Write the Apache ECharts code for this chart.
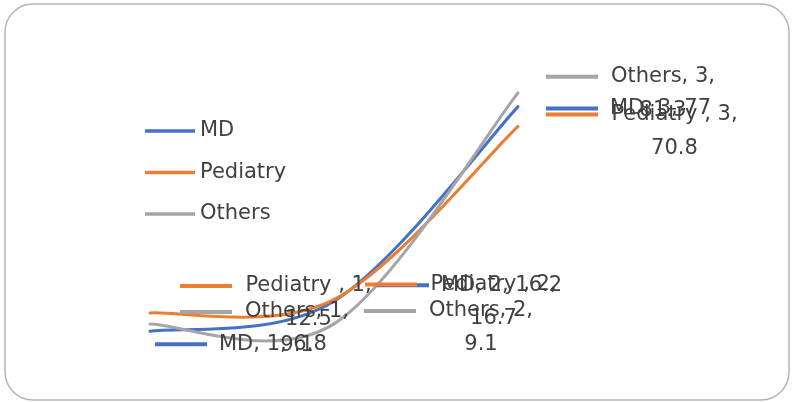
<!DOCTYPE html>
<html>
<head>
<meta charset="utf-8">
<script src="https://cdn.jsdelivr.net/npm/echarts@6/dist/echarts.min.js"></script>
<style>
  html, body { margin: 0; padding: 0; background: #ffffff; }
  #chart { width: 794px; height: 402px; }
</style>
</head>
<body>
<div id="chart"></div>
<script>
// Categories and series values
const categories = ['1', '2', '3'];
const seriesNames = ['MD', 'Pediatry ', 'Others'];
const mdValues = [6.8, 16.2, 77];
const pediatryValues = [12.5, 16.7, 70.8];
const othersValues = [9.1, 9.1, 81.3];

const seriesValues = [mdValues, pediatryValues, othersValues];
const colors = ['#4472C4', '#ED7D31', '#A5A5A5'];

// Label block placement relative to each point (top-left of key + text), px
const labelOffsets = [
  [[6, -3], [44, -32], [29, -14]],
  [[31, -43], [32, -31], [29, -28]],
  [[31, -28], [31, -29], [29, -32]]
];
// Whether the value drops to a second line under the label text
const wrapValue = [false, true, true];

const FONT_FAMILY = 'DejaVu Sans';
const FONT_SIZE = 21;
const TEXT_COLOR = '#404040';
const KEY_W = 52, KEY_GAP = 12;
const LINE_W = 3;

const measureCtx = document.createElement('canvas').getContext('2d');
measureCtx.font = FONT_SIZE + 'px "' + FONT_FAMILY + '"';
const textWidth = s => Math.ceil(measureCtx.measureText(s).width);

function buildLabel(si, ci) {
  const v = seriesValues[si][ci];
  const head = seriesNames[si] + ', ' + categories[ci] + ',';
  const rich = {
    k: { width: KEY_W, height: 4, backgroundColor: colors[si] },
    g: { width: KEY_GAP },
    s: { width: KEY_W + KEY_GAP }
  };
  let formatter;
  if (wrapValue[si]) {
    const W = Math.max(textWidth(head), textWidth(String(v))) + 2;
    rich.t = { width: W, align: 'center' };
    formatter = '{k|}{g|}{t|' + head + '}\n{s|}{t|' + v + '}';
  } else {
    rich.u = {};
    formatter = '{k|}{g|}{u|' + head + ' ' + v + '}';
  }
  return {
    show: true,
    position: labelOffsets[si][ci],
    align: 'left',
    verticalAlign: 'top',
    formatter: formatter,
    rich: rich
  };
}

// Smoothed curve segment between point i and i+1 (cardinal spline, 1/6 tangents)
function makeCurveRenderer(color) {
  return function (params, api) {
    const n = params.dataInsideLength;
    const i = params.dataIndexInside;
    if (i >= n - 1) return null;
    const pt = j => api.coord([api.value(0, j), api.value(1, j)]);
    const p0 = pt(Math.max(i - 1, 0));
    const p1 = pt(i);
    const p2 = pt(i + 1);
    const p3 = pt(Math.min(i + 2, n - 1));
    return {
      type: 'bezierCurve',
      shape: {
        x1: p1[0], y1: p1[1],
        x2: p2[0], y2: p2[1],
        cpx1: p1[0] + (p2[0] - p0[0]) / 6,
        cpy1: p1[1] + (p2[1] - p0[1]) / 6,
        cpx2: p2[0] - (p3[0] - p1[0]) / 6,
        cpy2: p2[1] - (p3[1] - p1[1]) / 6
      },
      style: { fill: null, stroke: color, lineWidth: LINE_W, lineCap: 'round' }
    };
  };
}

const labelSeries = seriesNames.map((name, si) => ({
  name: name,
  type: 'line',
  z: 3,
  symbol: 'circle',
  symbolSize: 2,
  showSymbol: true,
  color: colors[si],
  itemStyle: { color: colors[si] },
  lineStyle: { width: LINE_W, color: colors[si], opacity: 0 },
  label: {
    show: true,
    color: TEXT_COLOR,
    fontFamily: FONT_FAMILY,
    fontSize: FONT_SIZE,
    lineHeight: 34
  },
  emphasis: { disabled: true },
  data: seriesValues[si].map((v, ci) => ({ value: v, label: buildLabel(si, ci) }))
}));

const curveSeries = seriesNames.map((name, si) => ({
  name: name,
  type: 'custom',
  z: 2,
  color: colors[si],
  encode: { x: 0, y: 1 },
  renderItem: makeCurveRenderer(colors[si]),
  emphasis: { disabled: true },
  data: seriesValues[si].map((v, ci) => [ci, v])
}));

const chart = echarts.init(document.getElementById('chart'), null, { renderer: 'canvas' });
chart.setOption({
  animation: false,
  backgroundColor: '#ffffff',
  graphic: [{
    type: 'rect',
    silent: true,
    z: -10,
    shape: { x: 5, y: 4, width: 784, height: 396, r: 28 },
    style: { fill: 'none', stroke: '#b4b4b4', lineWidth: 1.5 }
  }],
  legend: {
    orient: 'vertical',
    left: 145,
    top: 120,
    padding: 0,
    icon: 'rect',
    itemWidth: 50,
    itemHeight: 3.5,
    itemGap: 19.5,
    selectedMode: false,
    textStyle: { color: TEXT_COLOR, fontFamily: FONT_FAMILY, fontSize: FONT_SIZE, lineHeight: 22 },
    data: seriesNames
  },
  grid: { left: 150, right: 276, top: 33, bottom: 49, outerBoundsMode: 'none' },
  xAxis: { type: 'category', data: categories, boundaryGap: false, show: false },
  yAxis: { type: 'value', min: 0, max: 100, show: false },
  tooltip: { show: false },
  series: labelSeries.concat(curveSeries)
});
</script>
</body>
</html>
